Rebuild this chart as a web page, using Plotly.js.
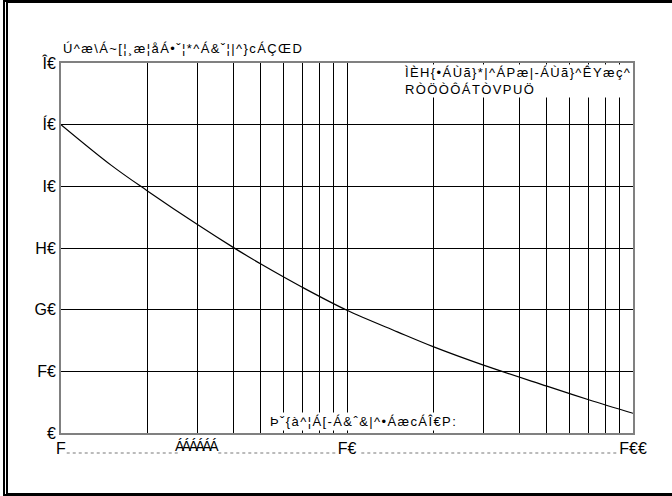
<!DOCTYPE html>
<html>
<head>
<meta charset="utf-8">
<script src="https://cdn.plot.ly/plotly-3.0.1.min.js"></script>
<style>
  html, body { margin: 0; padding: 0; background: #fff; }
  #wrap { position: relative; width: 672px; height: 496px; }
  #chart { position: absolute; left: 0; top: 0; width: 672px; height: 496px; }
  #frame { position: absolute; left: 3px; top: 0; width: 664px; height: 490px;
           border-top: 3px solid #000; border-left: 5px double #000; border-bottom: 3px solid #000;
           pointer-events: none; }
</style>
</head>
<body>
<div id="wrap">
  <div id="chart"></div>
  <div id="frame"></div>
</div>
<script>
// Data
const cycles = [1, 1.5, 2, 3, 4, 5, 7, 10, 15, 20, 30, 50, 70, 100];
const surgeCurrent = [50, 43.4, 39.3, 33.8, 30.1, 27.4, 23.6, 19.9, 16.4, 14.0, 11.0, 7.6, 5.4, 3.2];

const yTickVals = [0, 10, 20, 30, 40, 50, 60];
const yTickText = ["€", "F€", "G€", "H€", "I€", "Í€", "Î€"];
const xTickVals = [1, 2, 3, 4, 5, 6, 7, 8, 9, 10, 20, 30, 40, 50, 60, 70, 80, 90, 100];
const xTickText = ["F", "", "", "", "", "", "", "", "", "F€", "", "", "", "", "", "", "", "", "F€€"];

const titleText = "Ú^æ\\Á~[¦¸æ¦åÁ•ˇ¦*^Á&ˇ¦|^}cÁÇŒD";
const noteTopLines = ["ÌÈH{•ÁÙã}*|^ÁPæ|-ÁÙã}^ÊYæç^", "RÒÖÒÔÁTÒVPUÖ"];
const noteBottom = "Þˇ{à^¦Á[-Á&ˆ&|^•ÁæcÁÎ€P:";
const xMidLabel = "ÁÁÁÁÁÁ";

const font = "Liberation Sans, Arial, sans-serif";
const spaced = (s, px) => '<span style="letter-spacing:' + px + 'px">' + s + '</span>';

const trace = {
  x: cycles, y: surgeCurrent, type: "scatter", mode: "lines",
  line: { color: "#000", width: 1.2, shape: "spline", smoothing: 1 },
  hoverinfo: "skip"
};

const layout = {
  width: 672, height: 496,
  margin: { l: 61, r: 39, t: 63, b: 63 },
  paper_bgcolor: "#fff", plot_bgcolor: "#fff",
  showlegend: false,
  font: { family: font, color: "#000" },
  xaxis: {
    type: "log", range: [0, 2],
    tickmode: "array", tickvals: xTickVals, ticktext: xTickText,
    tickfont: { size: 16, family: font },
    showgrid: true, gridcolor: "#000", gridwidth: 1,
    showline: true, linecolor: "#808080", linewidth: 2, mirror: true,
    ticks: "", zeroline: false
  },
  yaxis: {
    range: [0, 60],
    tickmode: "array", tickvals: yTickVals, ticktext: yTickText,
    tickfont: { size: 16, family: font },
    showgrid: true, gridcolor: "#000", gridwidth: 1,
    showline: true, linecolor: "#808080", linewidth: 2, mirror: true,
    ticks: "", zeroline: false
  },
  annotations: [
    { text: spaced(titleText, 1.4), xref: "paper", yref: "paper", x: 0, y: 1, xanchor: "left", yanchor: "bottom",
      yshift: 5, showarrow: false, font: { size: 13, family: font } },
    { text: noteTopLines.map(s => spaced(s, 1.4)).join("<br>"), xref: "paper", yref: "paper",
      x: 0.6, y: 1, xanchor: "left", yanchor: "top", borderpad: 0,
      align: "left", yshift: -1, showarrow: false, bgcolor: "#fff", font: { size: 13, family: font } },
    { text: spaced(noteBottom, 1.4), xref: "paper", yref: "paper", x: 0.362, y: 0, xanchor: "left", yanchor: "bottom",
      yshift: 2, showarrow: false, bgcolor: "#fff", font: { size: 13, family: font } },
    { text: spaced(xMidLabel, -2.5), xref: "x", yref: "paper", x: Math.log10(3), y: 0, xanchor: "center", yanchor: "top",
      yshift: -3, showarrow: false, font: { size: 14, family: font } }
  ],
  shapes: [
    { type: "line", xref: "paper", yref: "paper", x0: 0.01, x1: 0.208, y0: -0.054, y1: -0.054,
      line: { color: "#bbb", width: 2, dash: "dot" } },
    { type: "line", xref: "paper", yref: "paper", x0: 0.275, x1: 0.48, y0: -0.054, y1: -0.054,
      line: { color: "#bbb", width: 2, dash: "dot" } },
    { type: "line", xref: "paper", yref: "paper", x0: 0.525, x1: 0.975, y0: -0.054, y1: -0.054,
      line: { color: "#bbb", width: 2, dash: "dot" } }
  ]
};

Plotly.newPlot("chart", [trace], layout, { staticPlot: true, displayModeBar: false });
</script>
</body>
</html>
